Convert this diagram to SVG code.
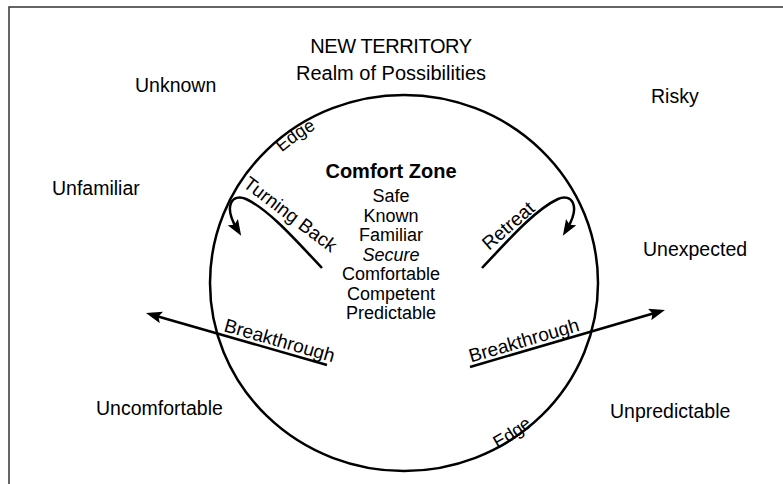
<svg xmlns="http://www.w3.org/2000/svg" width="783" height="484" viewBox="0 0 783 484">
<defs>
<style>
text{font-family:"Liberation Sans",Arial,Helvetica,sans-serif;fill:#000}
.title{font-size:20px;text-anchor:middle}
.lbl{font-size:19.5px}
.list{font-size:18px;text-anchor:middle}
.head{font-size:20px;font-weight:bold;text-anchor:middle}
.curve{font-size:19px}
.edge{font-size:18px}
.line{fill:none;stroke:#000;stroke-width:2.5}
.border{stroke:#333;stroke-width:1.5;fill:none}
</style>
<marker id="arrow" markerUnits="userSpaceOnUse" viewBox="0 0 16 12" markerWidth="16" markerHeight="12" refX="8" refY="6" orient="auto">
<path d="M0,0 L16,6 L0,12 L3,6 z" fill="#000"/>
</marker>
<path id="edgeTop" d="M253.8,183.6 A182,176 0 0 1 355.1,113.5"/>
<path id="edgeBot" d="M454.5,465.6 A195,189 0 0 0 563.7,391.4"/>
</defs>
<rect width="783" height="484" fill="#fff"/>
<g id="frame">
<path class="border" d="M9,484 L9,7 L783,7"/>
</g>
<g id="title">
<text class="title" x="391" y="53" letter-spacing="-0.4">NEW TERRITORY</text>
<text class="title" x="391" y="80">Realm of Possibilities</text>
</g>
<g id="outer-labels">
<text id="unknown" class="lbl" x="135" y="92">Unknown</text>
<text id="risky" class="lbl" x="651" y="103">Risky</text>
<text id="unfamiliar" class="lbl" x="52" y="195">Unfamiliar</text>
<text id="unexpected" class="lbl" x="643" y="256">Unexpected</text>
<text id="uncomfortable" class="lbl" x="96" y="415">Uncomfortable</text>
<text id="unpredictable" class="lbl" x="610" y="418">Unpredictable</text>
</g>
<g id="comfort-zone">
<ellipse cx="404" cy="283" rx="194" ry="188" class="line"/>
<text class="edge" text-anchor="middle"><textPath href="#edgeTop" startOffset="50%">Edge</textPath></text>
<text class="edge" text-anchor="middle"><textPath href="#edgeBot" startOffset="50%">Edge</textPath></text>
<text class="head" x="391" y="178">Comfort Zone</text>
<text class="list" x="391" y="202">Safe</text>
<text class="list" x="391" y="221.5">Known</text>
<text class="list" x="391" y="241">Familiar</text>
<text class="list" x="391" y="260.5" font-style="italic">Secure</text>
<text class="list" x="391" y="280">Comfortable</text>
<text class="list" x="391" y="299.5">Competent</text>
<text class="list" x="391" y="319">Predictable</text>
</g>
<g id="connectors">
<path id="turning-back" class="line" d="M322,268 C300,245 270,210 246,199 C232,193 223,206 237,229" marker-end="url(#arrow)"/>
<path id="retreat" class="line" d="M482,268 C504,245 534,210 558,199 C572,193 581,206 567,229" marker-end="url(#arrow)"/>
<path id="breakthrough-left" class="line" d="M327,365 L153.7,315.2" marker-end="url(#arrow)"/>
<path id="breakthrough-right" class="line" d="M470,367 L657.3,312.2" marker-end="url(#arrow)"/>
</g>
<g id="connector-labels">
<text class="curve" transform="translate(242,186) rotate(37)">Turning Back</text>
<text class="curve" transform="translate(489,251) rotate(-41)">Retreat</text>
<text class="curve" transform="translate(223,331) rotate(16)">Breakthrough</text>
<text class="curve" transform="translate(471,362.5) rotate(-16.3)">Breakthrough</text>
</g>
</svg>
